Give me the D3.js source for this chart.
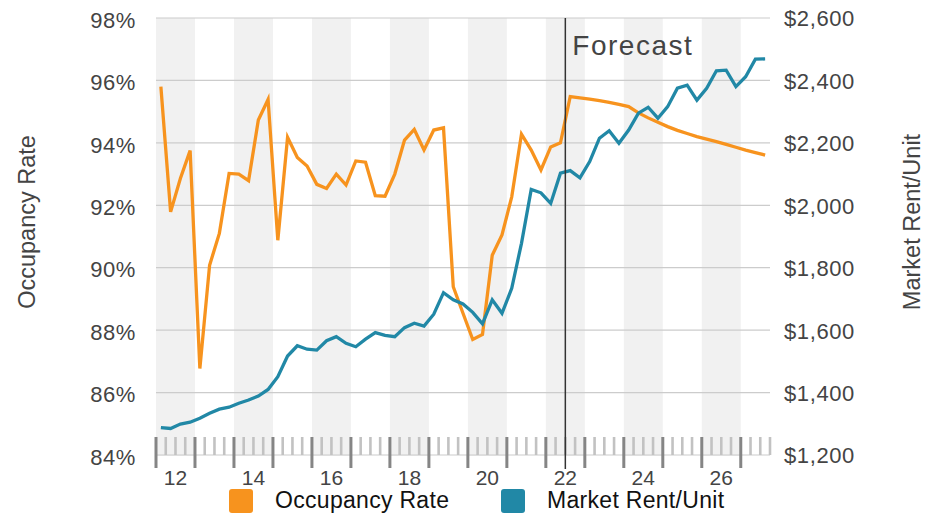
<!DOCTYPE html>
<html>
<head>
<meta charset="utf-8">
<script src="https://cdn.jsdelivr.net/npm/d3@7"></script>
<style>
  body { margin: 0; background: #fff; }
  svg text { font-family: "Liberation Sans", Arial, sans-serif; }
</style>
</head>
<body>
<div id="chart"></div>
<script>
// quarterly data, 2012 Q1 .. 2027 Q3
const years = [2012, 2013, 2014, 2015, 2016, 2017, 2018, 2019, 2020, 2021, 2022, 2023, 2024, 2025, 2026, 2027];
const quarterNames = ['Q1', 'Q2', 'Q3', 'Q4'];

const occupancy = [
  95.80, 91.79, 92.86, 93.75, 86.77, 90.08, 91.10, 93.02,
  93.00, 92.79, 94.73, 95.39, 90.88, 94.18, 93.53, 93.26,
  92.67, 92.54, 93.00, 92.65, 93.42, 93.38, 92.31, 92.29,
  93.00, 94.09, 94.43, 93.77, 94.41, 94.48, 89.39, 88.54,
  87.70, 87.86, 90.40, 91.05, 92.27, 94.28, 93.77, 93.13,
  93.87, 94.00, 95.48, 95.44, 95.40, 95.35, 95.30, 95.23,
  95.16, 94.96, 94.80, 94.66, 94.52, 94.40, 94.30, 94.20,
  94.12, 94.04, 93.95, 93.86, 93.77, 93.69, 93.61
];

const rent = [
  1288, 1285, 1299, 1305, 1318, 1334, 1347, 1353,
  1366, 1376, 1389, 1410, 1451, 1517, 1550, 1539,
  1536, 1566, 1579, 1558, 1547, 1571, 1592, 1583,
  1579, 1608, 1622, 1613, 1651, 1720, 1697, 1684,
  1657, 1620, 1697, 1654, 1734, 1878, 2051, 2040,
  2006, 2103, 2111, 2088, 2140, 2215, 2239, 2199,
  2241, 2295, 2314, 2279, 2316, 2375, 2385, 2337,
  2375, 2431, 2433, 2380, 2412, 2468, 2469
];

const labelYears = [2012, 2014, 2016, 2018, 2020, 2022, 2024, 2026];
const occTicks = [84, 86, 88, 90, 92, 94, 96, 98];
const rentTicks = [1200, 1400, 1600, 1800, 2000, 2200, 2400, 2600];
const forecastStart = '2022Q3';

const ORANGE = '#f7931e';
const TEAL = '#2188a6';

const W = 943, H = 515;
const plotLeft = 156, plotRight = 770, plotTop = 18, plotBottom = 455;

const quarters = years.flatMap(y => quarterNames.map(q => y + q)).slice(0, occupancy.length);

const svg = d3.select('#chart').append('svg')
  .attr('width', W)
  .attr('height', H);

const x = d3.scaleBand().domain(quarters).range([plotLeft, plotRight]).padding(0);
const bw = x.bandwidth();
const yL = d3.scaleLinear().domain([84, 98]).range([plotBottom, plotTop]);
const yR = d3.scaleLinear().domain([1200, 2600]).range([plotBottom, plotTop]);

// year bands
const yearSpans = years.map(y => {
  const qs = quarters.filter(q => q.startsWith(String(y)));
  return { year: y, x0: x(qs[0]), x1: x(qs[qs.length - 1]) + bw };
});

svg.append('g')
  .selectAll('rect')
  .data(yearSpans.filter((d, i) => i % 2 === 0))
  .enter()
  .append('rect')
  .attr('x', d => d.x0)
  .attr('y', plotTop)
  .attr('width', d => d.x1 - d.x0)
  .attr('height', plotBottom - plotTop + 1)
  .attr('fill', '#f1f1f1');

// gridlines
svg.append('g')
  .selectAll('line')
  .data(occTicks)
  .enter()
  .append('line')
  .attr('x1', plotLeft)
  .attr('x2', plotRight)
  .attr('y1', d => yL(d))
  .attr('y2', d => yL(d))
  .attr('stroke', '#cccccc')
  .attr('stroke-width', 1.2);

// quarter ticks (minor) and year ticks (major)
const boundaries = quarters.map((q, i) => ({ x: x(q), major: i % 4 === 0 }));
boundaries.push({ x: plotRight, major: false });

svg.append('g')
  .selectAll('line')
  .data(boundaries.filter(d => !d.major))
  .enter()
  .append('line')
  .attr('x1', d => d.x)
  .attr('x2', d => d.x)
  .attr('y1', plotBottom - 18)
  .attr('y2', plotBottom)
  .attr('stroke', '#c2c2c2')
  .attr('stroke-width', 2.6);

svg.append('g')
  .selectAll('line')
  .data(boundaries.filter(d => d.major))
  .enter()
  .append('line')
  .attr('x1', d => d.x)
  .attr('x2', d => d.x)
  .attr('y1', plotBottom - 18)
  .attr('y2', plotBottom + 13)
  .attr('stroke', '#858585')
  .attr('stroke-width', 3);

// year labels
svg.append('g')
  .selectAll('text')
  .data(labelYears)
  .enter()
  .append('text')
  .attr('x', d => x(d + 'Q1') + 2 * bw)
  .attr('y', plotBottom + 30)
  .attr('text-anchor', 'middle')
  .attr('font-size', 21)
  .attr('fill', '#444')
  .text(d => String(d).slice(2));

// left axis
const axL = svg.append('g')
  .attr('transform', `translate(${plotLeft},0)`)
  .call(d3.axisLeft(yL).tickValues(occTicks).tickSize(0).tickPadding(20).tickFormat(d => d + '%'));
axL.select('.domain').remove();
axL.selectAll('text')
  .attr('font-family', '"Liberation Sans", Arial, sans-serif')
  .attr('font-size', 22)
  .attr('letter-spacing', 0.6)
  .attr('dy', '0.42em')
  .attr('fill', '#444');

// right axis
const axR = svg.append('g')
  .attr('transform', `translate(${plotRight},0)`)
  .call(d3.axisRight(yR).tickValues(rentTicks).tickSize(0).tickPadding(14).tickFormat(d => '$' + d3.format(',')(d)));
axR.select('.domain').remove();
axR.selectAll('text')
  .attr('font-family', '"Liberation Sans", Arial, sans-serif')
  .attr('font-size', 22)
  .attr('letter-spacing', 0.6)
  .attr('dy', '0.36em')
  .attr('fill', '#444');

// axis titles
svg.append('text')
  .attr('transform', 'translate(35,222) rotate(-90)')
  .attr('text-anchor', 'middle')
  .attr('font-size', 23.5)
  .attr('fill', '#444')
  .text('Occupancy Rate');

svg.append('text')
  .attr('transform', 'translate(920,222) rotate(-90)')
  .attr('text-anchor', 'middle')
  .attr('font-size', 23.5)
  .attr('fill', '#444')
  .text('Market Rent/Unit');

// series
const lineOcc = d3.line()
  .x((d, i) => x(quarters[i]) + bw / 2)
  .y(d => yL(d));

const lineRent = d3.line()
  .x((d, i) => x(quarters[i]) + bw / 2)
  .y(d => yR(d));

svg.append('path')
  .datum(occupancy)
  .attr('d', lineOcc)
  .attr('fill', 'none')
  .attr('stroke', ORANGE)
  .attr('stroke-width', 3.3);

svg.append('path')
  .datum(rent)
  .attr('d', lineRent)
  .attr('fill', 'none')
  .attr('stroke', TEAL)
  .attr('stroke-width', 3.3);

// forecast marker
const fx = x(forecastStart);
svg.append('line')
  .attr('x1', fx)
  .attr('x2', fx)
  .attr('y1', plotTop)
  .attr('y2', plotBottom + 14)
  .attr('stroke', '#333')
  .attr('stroke-width', 1.5);

svg.append('text')
  .attr('x', fx + 7)
  .attr('y', 55)
  .attr('font-size', 28)
  .attr('letter-spacing', 1.5)
  .attr('fill', '#444')
  .text('Forecast');

// legend
const legendItems = [
  { label: 'Occupancy Rate', color: ORANGE, x: 229 },
  { label: 'Market Rent/Unit', color: TEAL, x: 501 }
];

const lg = svg.append('g')
  .selectAll('g')
  .data(legendItems)
  .enter()
  .append('g')
  .attr('transform', d => `translate(${d.x},489)`);

lg.append('rect')
  .attr('width', 24)
  .attr('height', 24)
  .attr('rx', 3)
  .attr('fill', d => d.color);

lg.append('text')
  .attr('x', 46)
  .attr('y', 19)
  .attr('font-size', 23)
  .attr('letter-spacing', 0.3)
  .attr('fill', '#111')
  .text(d => d.label);
</script>
</body>
</html>
